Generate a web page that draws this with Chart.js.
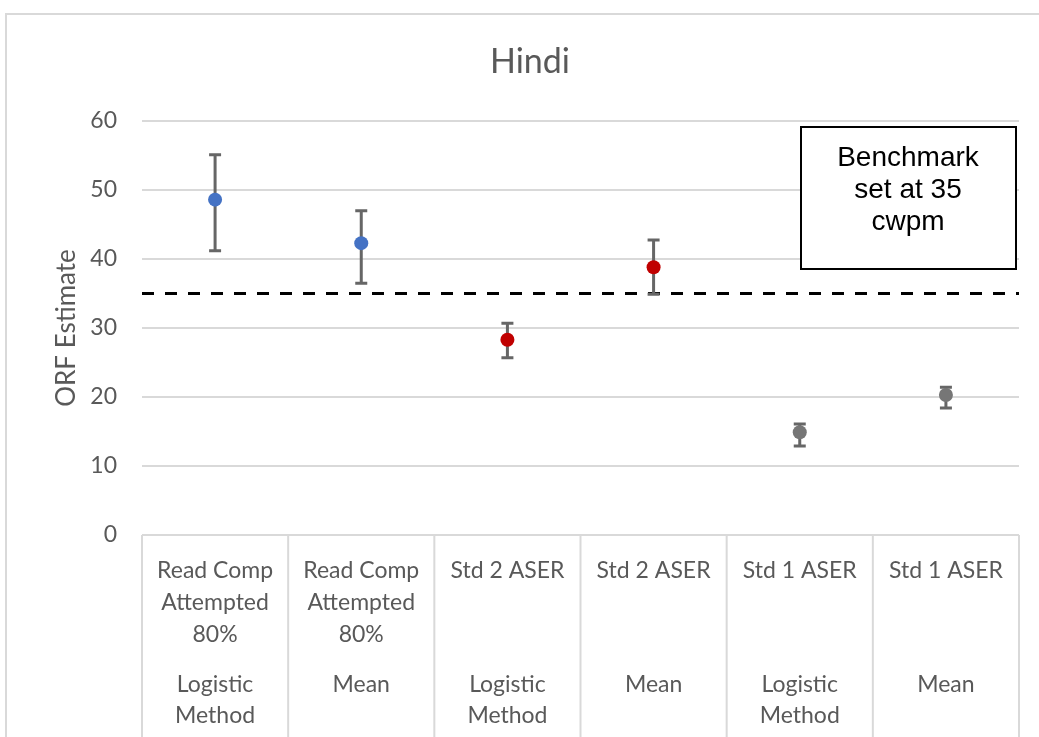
<!DOCTYPE html>
<html><head><meta charset="utf-8">
<script src="https://cdn.jsdelivr.net/npm/chart.js@4.4.0/dist/chart.umd.min.js"></script>
<style>html,body{margin:0;padding:0;background:#fff;overflow:hidden}#wrap{width:1039px;height:737px;position:relative}canvas{display:block}</style>
</head><body><div id="wrap"><canvas id="c" width="1039" height="737"></canvas></div>
<script>
const categories = [["Read Comp","Attempted","80%"],["Read Comp","Attempted","80%"],["Std 2 ASER"],["Std 2 ASER"],["Std 1 ASER"],["Std 1 ASER"]];
const methods = [["Logistic","Method"],["Mean"],["Logistic","Method"],["Mean"],["Logistic","Method"],["Mean"]];
const orfEstimate = [48.6, 42.3, 28.3, 38.8, 14.9, 20.3];
const errorLow = [41.2, 36.5, 25.7, 34.9, 12.9, 18.4];
const errorHigh = [55.1, 47.0, 30.7, 42.75, 16.1, 21.4];
const pointColors = ["#4472C4","#4472C4","#C00000","#C00000","#767676","#767676"];
const benchmark = 35;
const yMin = 0, yMax = 60, yStep = 10;
const chartTitle = "Hindi";
const yTitle = "ORF Estimate";
const noteLines = ["Benchmark","set at 35","cwpm"];

const GRAY_TEXT = '#595959';
const GRID = '#d9d9d9';

const framePlugin = {
  id: 'frame',
  beforeDraw(chart) {
    const ctx = chart.ctx;
    ctx.save();
    ctx.fillStyle = '#fff';
    ctx.fillRect(0, 0, chart.width, chart.height);
    ctx.strokeStyle = GRID;
    ctx.lineWidth = 2;
    ctx.beginPath();
    ctx.moveTo(6, chart.height);
    ctx.lineTo(6, 14);
    ctx.lineTo(chart.width, 14);
    ctx.stroke();
    ctx.fillStyle = GRAY_TEXT;
    ctx.font = '34px Lato';
    ctx.textAlign = 'center';
    ctx.textBaseline = 'middle';
    ctx.fillText(chartTitle, 530, 62);
    ctx.restore();
  }
};

const errorPlugin = {
  id: 'errbars',
  beforeDatasetsDraw(chart) {
    const ctx = chart.ctx, x = chart.scales.x, y = chart.scales.y, a = chart.chartArea;
    ctx.save();
    const yb = y.getPixelForValue(benchmark);
    ctx.strokeStyle = '#000';
    ctx.lineWidth = 3;
    ctx.setLineDash([12, 11]);
    ctx.beginPath();
    ctx.moveTo(a.left, yb);
    ctx.lineTo(a.right, yb);
    ctx.stroke();
    ctx.setLineDash([]);
    ctx.strokeStyle = '#666666';
    ctx.lineWidth = 3;
    orfEstimate.forEach((v, i) => {
      const px = x.getPixelForValue(i);
      const lo = y.getPixelForValue(errorLow[i]);
      const hi = y.getPixelForValue(errorHigh[i]);
      ctx.beginPath();
      ctx.moveTo(px, lo); ctx.lineTo(px, hi);
      ctx.moveTo(px - 6, lo); ctx.lineTo(px + 6, lo);
      ctx.moveTo(px - 6, hi); ctx.lineTo(px + 6, hi);
      ctx.stroke();
    });
    ctx.restore();
  }
};

const axisPlugin = {
  id: 'catAxis',
  afterDraw(chart) {
    const ctx = chart.ctx, x = chart.scales.x, a = chart.chartArea;
    const n = categories.length;
    ctx.save();
    ctx.strokeStyle = GRID;
    ctx.lineWidth = 2;
    ctx.beginPath();
    for (let i = 0; i <= n; i++) {
      const bx = i === 0 ? a.left : (i === n ? a.right : (x.getPixelForValue(i - 1) + x.getPixelForValue(i)) / 2);
      ctx.moveTo(bx, a.bottom);
      ctx.lineTo(bx, chart.height);
    }
    ctx.stroke();
    ctx.fillStyle = GRAY_TEXT;
    ctx.font = '23px Lato';
    ctx.textAlign = 'center';
    ctx.textBaseline = 'middle';
    for (let i = 0; i < n; i++) {
      const cx = x.getPixelForValue(i);
      categories[i].forEach((t, k) => ctx.fillText(t, cx, a.bottom + 36 + 32 * k));
      methods[i].forEach((t, k) => ctx.fillText(t, cx, a.bottom + 150 + 31 * k));
    }
    ctx.strokeStyle = '#000';
    ctx.lineWidth = 2;
    ctx.fillStyle = '#fff';
    ctx.fillRect(801, 127, 215, 142);
    ctx.strokeRect(801, 127, 215, 142);
    ctx.fillStyle = '#000';
    ctx.font = '28px "Liberation Sans", Arial';
    noteLines.forEach((t, k) => ctx.fillText(t, 908, 158 + 32 * k));
    ctx.restore();
  }
};

new Chart(document.getElementById('c'), {
  type: 'line',
  data: {
    labels: categories.map((c, i) => c.join(' ') + ' ' + methods[i].join(' ')),
    datasets: [{
      data: orfEstimate,
      showLine: false,
      pointRadius: 7,
      pointHoverRadius: 7,
      pointBorderWidth: 0,
      pointBackgroundColor: pointColors,
      pointBorderColor: pointColors
    }]
  },
  options: {
    responsive: false,
    animation: false,
    devicePixelRatio: 1,
    layout: { padding: { top: 121, right: 20, bottom: 0, left: 0 } },
    plugins: { legend: { display: false }, tooltip: { enabled: false }, title: { display: false } },
    scales: {
      x: {
        type: 'category', offset: true,
        ticks: { display: false },
        grid: { display: false },
        border: { display: false },
        afterFit(s) { s.height = 202; }
      },
      y: {
        min: yMin, max: yMax,
        ticks: { stepSize: yStep, padding: 25, color: GRAY_TEXT, font: { family: 'Lato', size: 23 } },
        grid: { color: GRID, lineWidth: 2, drawTicks: false },
        border: { display: false },
        title: { display: true, text: yTitle, color: GRAY_TEXT, font: { family: 'Lato', size: 26 }, padding: { top: 51, bottom: 0 } },
        afterFit(s) { s.width = 142; }
      }
    }
  },
  plugins: [framePlugin, errorPlugin, axisPlugin]
});
</script>
</body></html>
